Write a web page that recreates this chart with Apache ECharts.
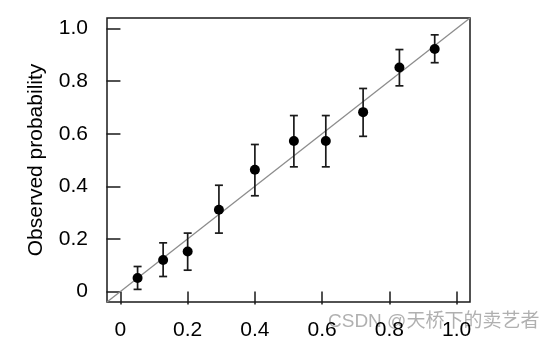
<!DOCTYPE html>
<html>
<head>
<meta charset="utf-8">
<script src="https://cdn.jsdelivr.net/npm/echarts@6/dist/echarts.min.js"></script>
<style>
html,body{margin:0;padding:0;background:#fff;}
#chart{width:554px;height:342px;}
</style>
</head>
<body>
<div id="chart"></div>
<script>
// Predicted probability (x), observed probability (y) and 95% interval bounds
var predicted = [0.051, 0.127, 0.200, 0.293, 0.400, 0.516, 0.611, 0.722, 0.830, 0.935];
var observed  = [0.051, 0.120, 0.152, 0.311, 0.463, 0.572, 0.572, 0.682, 0.852, 0.922];
var lower     = [0.008, 0.057, 0.081, 0.222, 0.364, 0.474, 0.474, 0.590, 0.782, 0.870];
var upper     = [0.095, 0.185, 0.222, 0.404, 0.559, 0.669, 0.669, 0.772, 0.920, 0.976];
var tickValues = [0, 0.2, 0.4, 0.6, 0.8, 1.0];
var diagonal = [[-0.04, -0.04], [1.04, 1.04]];
var yLabel = 'Observed probability';
var watermark = 'CSDN @天桥下的卖艺者';

var FONT = '"Liberation Sans", Arial, Helvetica, sans-serif';
var fmt = function (v) { return Math.abs(v) < 1e-9 ? '0' : v.toFixed(1); };

var points = predicted.map(function (x, i) { return [x, observed[i]]; });
var bars = predicted.map(function (x, i) { return [x, lower[i], upper[i]]; });

var chart = echarts.init(document.getElementById('chart'), null, {renderer: 'canvas'});
chart.setOption({
  animation: false,
  backgroundColor: '#fff',
  grid: {
    left: 107, top: 18, right: 84, bottom: 40,
    show: true, borderColor: '#1a1a1a', borderWidth: 1.5, backgroundColor: 'transparent'
  },
  xAxis: {
    type: 'value', min: -0.04, max: 1.04,
    splitLine: {show: false},
    axisLine: {show: false},
    axisTick: {show: true, customValues: tickValues, length: 13, inside: false,
      lineStyle: {color: '#1a1a1a', width: 1.5}},
    axisLabel: {show: true, customValues: tickValues, formatter: fmt, margin: 18,
      color: '#000', fontSize: 21, fontFamily: FONT}
  },
  yAxis: {
    type: 'value', min: -0.04, max: 1.04,
    name: yLabel, nameLocation: 'middle', nameGap: 60,
    nameTextStyle: {color: '#000', fontSize: 21, fontFamily: FONT},
    splitLine: {show: false},
    axisLine: {show: false},
    axisTick: {show: true, customValues: tickValues, length: 14, inside: false,
      lineStyle: {color: '#1a1a1a', width: 1.5}},
    axisLabel: {show: true, customValues: tickValues, formatter: fmt, margin: 19,
      color: '#000', fontSize: 21, fontFamily: FONT}
  },
  graphic: [{
    type: 'text', left: 328, top: 312, silent: true,
    style: {text: watermark, fill: 'rgba(150,150,150,0.75)', fontSize: 19,
      fontFamily: '"Liberation Sans", "Noto Sans CJK SC", sans-serif'}
  }],
  series: [
    {
      type: 'line', data: diagonal, symbol: 'none', silent: true, z: 1,
      lineStyle: {color: '#8c8c8c', width: 1.3}
    },
    {
      type: 'custom', data: bars, z: 2, silent: true,
      renderItem: function (params, api) {
        var x = api.value(0);
        var lo = api.coord([x, api.value(1)]);
        var hi = api.coord([x, api.value(2)]);
        var cap = 4;
        var st = {stroke: '#1a1a1a', lineWidth: 1.7};
        return {
          type: 'group',
          children: [
            {type: 'line', shape: {x1: lo[0], y1: lo[1], x2: hi[0], y2: hi[1]}, style: st},
            {type: 'line', shape: {x1: lo[0] - cap, y1: lo[1], x2: lo[0] + cap, y2: lo[1]}, style: st},
            {type: 'line', shape: {x1: hi[0] - cap, y1: hi[1], x2: hi[0] + cap, y2: hi[1]}, style: st}
          ]
        };
      }
    },
    {
      type: 'scatter', data: points, symbol: 'circle', symbolSize: 10, z: 3,
      itemStyle: {color: '#000', opacity: 1}
    }
  ]
});
</script>
</body>
</html>
